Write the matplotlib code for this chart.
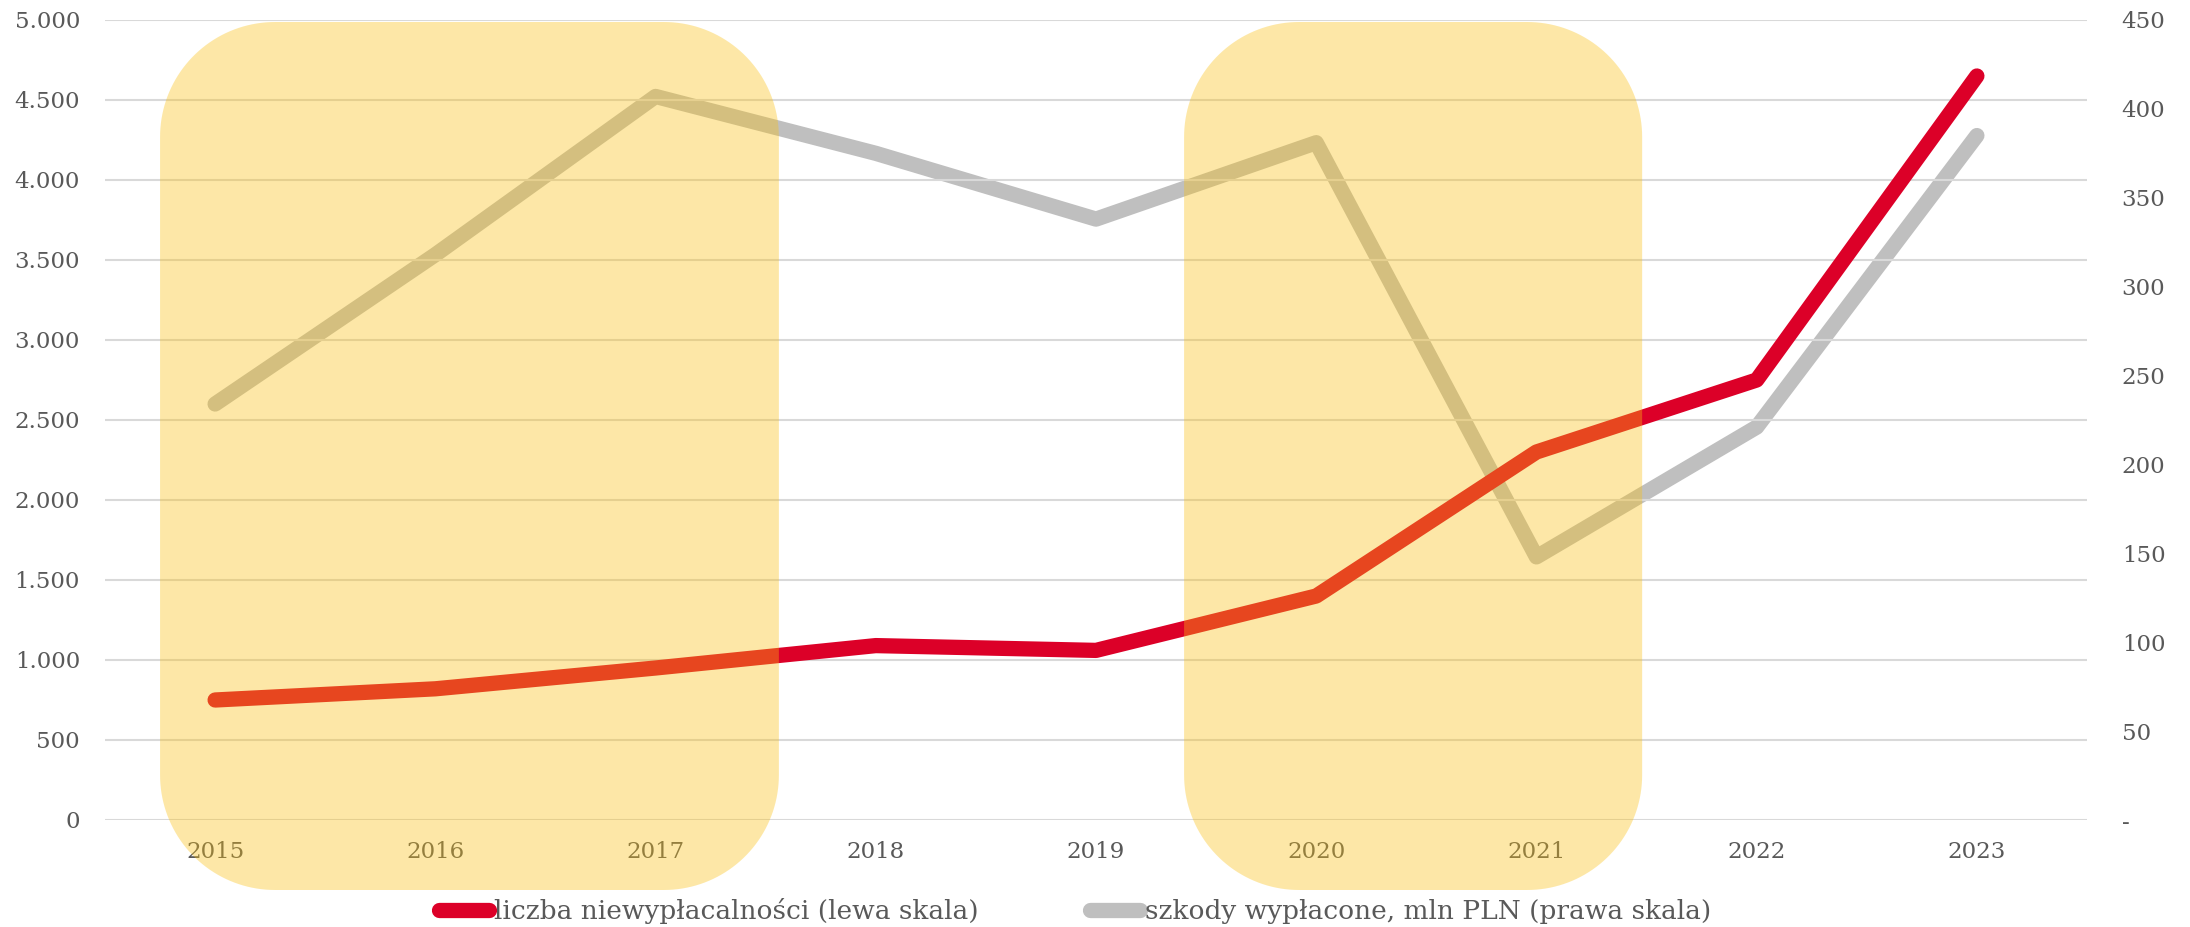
import matplotlib
matplotlib.use("Agg")
import numpy as np
import matplotlib.pyplot as plt
import matplotlib.transforms as mtransforms
from matplotlib.patches import Polygon
from matplotlib.lines import Line2D

# ---- data ----
years = ["2015", "2016", "2017", "2018", "2019", "2020", "2021", "2022", "2023"]
insolvencies = [750, 820, 950, 1090, 1060, 1400, 2300, 2750, 4650]          # left scale
claims_paid = [234, 318, 407, 375, 338, 381, 148, 221, 385]                 # right scale, mln PLN
left_ticks = [0, 500, 1000, 1500, 2000, 2500, 3000, 3500, 4000, 4500, 5000]
left_labels = ["0", "500", "1.000", "1.500", "2.000", "2.500", "3.000", "3.500", "4.000", "4.500", "5.000"]
right_ticks = [0, 50, 100, 150, 200, 250, 300, 350, 400, 450]
right_labels = ["-", "50", "100", "150", "200", "250", "300", "350", "400", "450"]
label_red = "liczba niewypłacalności (lewa skala)"
label_grey = "szkody wypłacone, mln PLN (prawa skala)"
# highlighted periods, in category-index units (start, end)
highlight_spans = [(-0.25, 2.56), (4.40, 6.48)]

RED = "#DC0028"
GREY = "#BFBFBF"
TXT = "#595959"
FONT = "DejaVu Serif"
LW = 11

W, H = 2190, 927
fig = plt.figure(figsize=(W / 100, H / 100), dpi=100)
ax = fig.add_axes([105 / W, 1 - 820 / H, (2087 - 105) / W, (820 - 20) / H])
ax2 = ax.twinx()
ax.set_zorder(2)
ax2.set_zorder(1)
ax.patch.set_visible(False)

x = list(range(len(years)))
ax2.plot(x, claims_paid, color=GREY, lw=LW, solid_capstyle="round", solid_joinstyle="round")
ax.plot(x, insolvencies, color=RED, lw=LW, solid_capstyle="round", solid_joinstyle="round")

ax.set_xlim(-0.5, len(years) - 0.5)
ax.set_ylim(0, 5000)
ax2.set_ylim(0, 450)
ax.set_xticks(x)
ax.set_xticklabels(years)
ax.set_yticks(left_ticks)
ax.set_yticklabels(left_labels)
ax2.set_yticks(right_ticks)
ax2.set_yticklabels(right_labels)

ax.grid(axis="y", color="#D9D9D9", lw=1.5)
ax.grid(axis="x", visible=False)
for a in (ax, ax2):
    for s in a.spines.values():
        s.set_visible(False)
ax.tick_params(axis="x", length=0, pad=15, labelsize=16.5, labelcolor=TXT)
ax.tick_params(axis="y", length=0, pad=18, labelsize=16.5, labelcolor=TXT)
ax2.tick_params(axis="y", length=0, pad=25, labelsize=16.5, labelcolor=TXT)
for lab in ax.get_xticklabels() + ax.get_yticklabels() + ax2.get_yticklabels():
    lab.set_fontfamily(FONT)


def rounded_rect(x0, y0, x1, y1, r):
    pts = []
    corners = [(x1 - r, y0 + r, -90, 0), (x1 - r, y1 - r, 0, 90),
               (x0 + r, y1 - r, 90, 180), (x0 + r, y0 + r, 180, 270)]
    for cx, cy, a0, a1 in corners:
        t = np.radians(np.linspace(a0, a1, 40))
        pts.extend(zip(cx + r * np.cos(t), cy + r * np.sin(t)))
    return pts


# highlight rounded boxes, overlaid semi-transparently
top_px = H - 22
bot_px = H - 890
for s0, s1 in highlight_spans:
    x0 = ax.transData.transform((s0, 0))[0]
    x1 = ax.transData.transform((s1, 0))[0]
    p = Polygon(rounded_rect(x0, bot_px, x1, top_px, 115), closed=True,
                transform=mtransforms.IdentityTransform(),
                facecolor="#FAC012", alpha=0.37, edgecolor="none", zorder=10)
    fig.add_artist(p)

handles = [Line2D([0], [0], color=RED, lw=LW, solid_capstyle="round"),
           Line2D([0], [0], color=GREY, lw=LW, solid_capstyle="round")]
leg = fig.legend(handles, [label_red, label_grey], loc="center",
                 bbox_to_anchor=(1075 / W, 1 - 911 / H), ncol=2, frameon=False,
                 handlelength=1.9, handletextpad=0.2, columnspacing=4.2,
                 prop={"family": FONT, "size": 19})
for t in leg.get_texts():
    t.set_color(TXT)

fig.savefig("out.png", dpi=100)
